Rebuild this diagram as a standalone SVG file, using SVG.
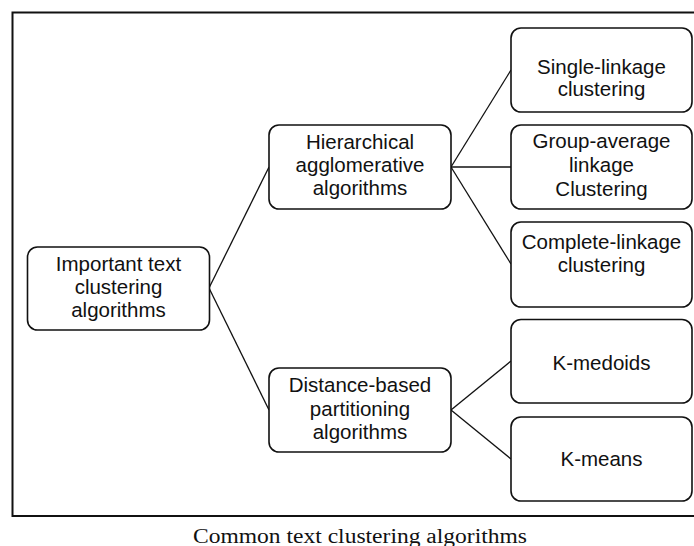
<svg xmlns="http://www.w3.org/2000/svg" width="694" height="546" viewBox="0 0 694 546">
<style>
.frame{fill:none;stroke:#111;stroke-width:2}
.box{fill:#fff;stroke:#111;stroke-width:1.6}
.lbl{font-family:"Liberation Sans",Arial,sans-serif;font-size:20.5px;fill:#111;text-anchor:middle}
.cap{font-family:"Liberation Serif","Times New Roman",serif;font-size:20px;fill:#111;text-anchor:middle}
.conn line{stroke:#111;stroke-width:1.3}
</style>
<rect x="0" y="0" width="694" height="546" fill="#fff"/>
<path class="frame" d="M700,12.5 H12.5 V516 H700"/>
<g class="conn" id="connectors">
<line x1="209" y1="288" x2="269" y2="167"/>
<line x1="209" y1="288" x2="269" y2="410"/>
<line x1="451" y1="167" x2="511" y2="70"/>
<line x1="451" y1="167" x2="511" y2="167"/>
<line x1="451" y1="167" x2="511" y2="264"/>
<line x1="451" y1="410" x2="511" y2="361"/>
<line x1="451" y1="410" x2="511" y2="459"/>
</g>
<g id="root">
<rect class="box" x="27.5" y="247" width="182" height="83" rx="10"/>
<text class="lbl" x="118.5" y="271">Important text</text>
<text class="lbl" x="118.5" y="294">clustering</text>
<text class="lbl" x="118.5" y="316.5">algorithms</text>
</g>
<g id="hier">
<rect class="box" x="269" y="125" width="182" height="84" rx="10"/>
<text class="lbl" x="360" y="149">Hierarchical</text>
<text class="lbl" x="360" y="172">agglomerative</text>
<text class="lbl" x="360" y="195">algorithms</text>
</g>
<g id="dist">
<rect class="box" x="269" y="368" width="182" height="84" rx="10"/>
<text class="lbl" x="360" y="392">Distance-based</text>
<text class="lbl" x="360" y="415.5">partitioning</text>
<text class="lbl" x="360" y="438.5">algorithms</text>
</g>
<g id="single">
<rect class="box" x="511" y="28" width="181" height="84" rx="10"/>
<text class="lbl" x="601.5" y="73.5">Single-linkage</text>
<text class="lbl" x="601.5" y="96">clustering</text>
</g>
<g id="group">
<rect class="box" x="511" y="125" width="181" height="84" rx="10"/>
<text class="lbl" x="601.5" y="148">Group-average</text>
<text class="lbl" x="601.5" y="171.5">linkage</text>
<text class="lbl" x="601.5" y="195.5">Clustering</text>
</g>
<g id="complete">
<rect class="box" x="511" y="222" width="181" height="85" rx="10"/>
<text class="lbl" x="601.5" y="249">Complete-linkage</text>
<text class="lbl" x="601.5" y="272">clustering</text>
</g>
<g id="kmedoids">
<rect class="box" x="511" y="319.5" width="181" height="83.5" rx="10"/>
<text class="lbl" x="601.5" y="369.5">K-medoids</text>
</g>
<g id="kmeans">
<rect class="box" x="511" y="417" width="181" height="84" rx="10"/>
<text class="lbl" x="601.5" y="466">K-means</text>
</g>
<text class="cap" x="360" y="542.5" textLength="334" lengthAdjust="spacingAndGlyphs">Common text clustering algorithms</text>
</svg>
